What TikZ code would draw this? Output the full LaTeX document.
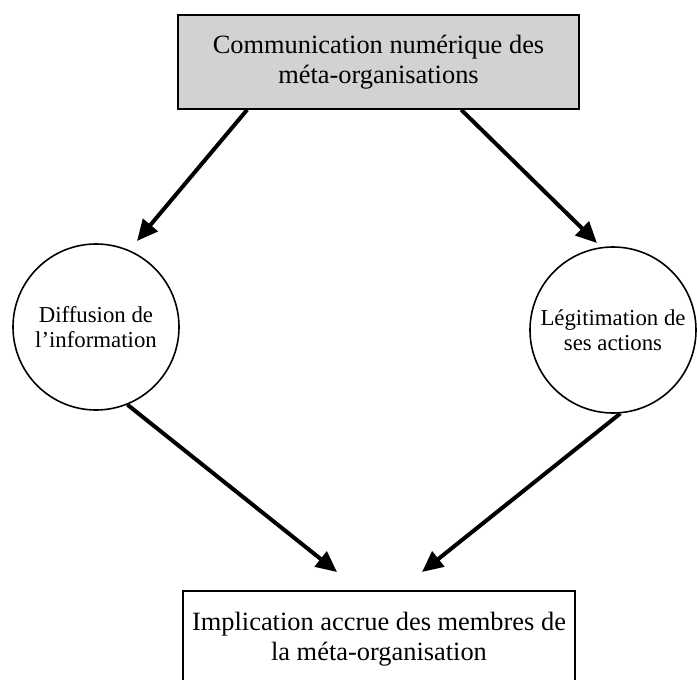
\documentclass[tikz,border=0pt]{standalone}
\usepackage{fontspec}
\setmainfont{Liberation Serif}
\usetikzlibrary{arrows.meta,positioning}
\tikzset{
  boite/.style={draw,line width=0.8pt,rectangle,align=center,inner sep=0pt,
    font=\fontsize{13.2}{14.8}\selectfont},
  rond/.style={draw,line width=0.8pt,circle,minimum size=83pt,inner sep=0pt,align=center,
    font=\fontsize{11.4}{12.5}\selectfont},
  fleche/.style={line width=2pt,-{Triangle[length=10.5pt,width=9.5pt]}},
}

\begin{document}
\begin{tikzpicture}[x=0.5pt,y=-0.5pt]
  \useasboundingbox (0,0) rectangle (697,680);
  \node (com) [boite,fill=gray!35,minimum width=200.5pt,minimum height=47pt] at (378.5,62)
    {Communication numérique des\\méta-organisations};
  \node (diff) [rond] at (96,327) {Diffusion de\\l’information};
  \node (legi) [rond] at (613,330) {Légitimation de\\ses actions};
  \node (impl) [boite,minimum width=196pt,minimum height=48pt] at (379,639)
    {Implication accrue des membres de\\la méta-organisation};
  \coordinate (p1) at (137,241);
  \coordinate (p2) at (597,243);
  \coordinate (p3) at (337,572);
  \coordinate (p4) at (422,572);
  \draw[fleche] (com.200) -- (p1);
  \draw[fleche] (com.330) -- (p2);
  \draw[fleche] (diff.292) -- (p3);
  \draw[fleche] (legi.275) -- (p4);
\end{tikzpicture}
\end{document}
